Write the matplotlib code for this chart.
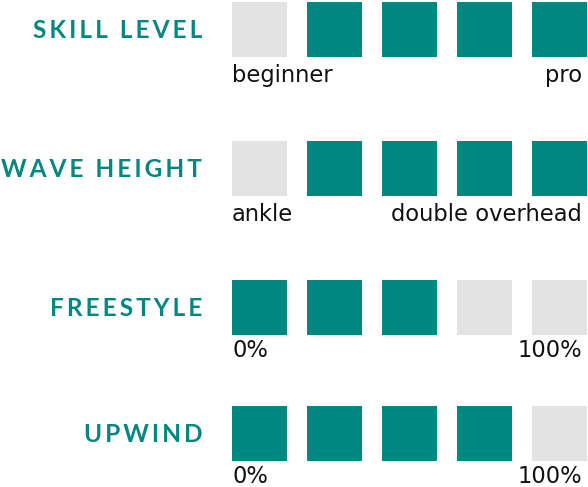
import matplotlib.pyplot as plt

# chart data
categories = ["SKILL LEVEL", "WAVE HEIGHT", "FREESTYLE", "UPWIND"]
filled = [
    [0, 1, 1, 1, 1],
    [0, 1, 1, 1, 1],
    [1, 1, 1, 0, 0],
    [1, 1, 1, 1, 0],
]
left_labels = ["beginner", "ankle", "0%", "0%"]
right_labels = ["pro", "double overhead", "100%", "100%"]

teal = "#00877F"
grey = "#E3E3E3"

fig = plt.figure(figsize=(5.88, 4.87), dpi=100)
ax = fig.add_axes([0, 0, 1, 1])
ax.set_xlim(0, 588)
ax.set_ylim(487, 0)
ax.axis("off")

row_top = [2, 141, 280, 406]
label_gap = [25, 25, 22, 22]
size = 55
step = 75
x0 = 232

for r, name in enumerate(categories):
    xs = [x0 + step * i for i in range(len(filled[r]))]
    cols = [teal if f else grey for f in filled[r]]
    ax.bar(xs, size, width=size, bottom=row_top[r], align="edge", color=cols, linewidth=0)
    # letter spaced heading
    spaced = "\u2009".join(name)
    ax.text(202, row_top[r] + size / 2 + 1, spaced, ha="right", va="center",
            color=teal, fontsize=17.6, fontweight="bold", family=["Lato", "DejaVu Sans"])
    yb = row_top[r] + size + label_gap[r]
    ax.text(x0, yb, left_labels[r], ha="left", va="baseline",
            fontsize=16.3, family="DejaVu Sans", color="#111111")
    ax.text(582, yb, right_labels[r], ha="right", va="baseline",
            fontsize=16.3, family="DejaVu Sans", color="#111111")

fig.savefig("out.png", dpi=100)
